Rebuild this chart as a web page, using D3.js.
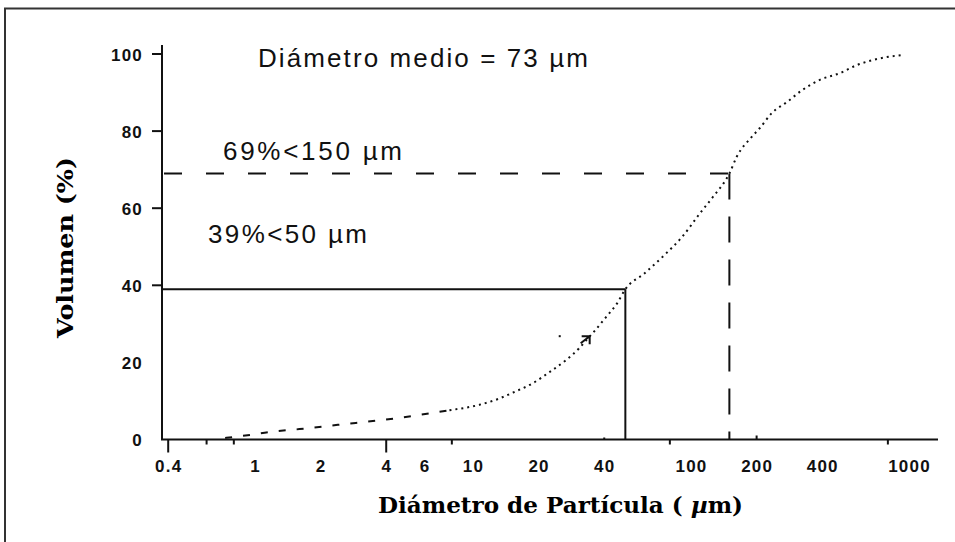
<!DOCTYPE html>
<html>
<head>
<meta charset="utf-8">
<script src="https://cdn.jsdelivr.net/npm/d3@7/dist/d3.min.js"></script>
<style>
  html, body { margin: 0; padding: 0; background: #fff; }
  svg { display: block; }
  .tick-label { font-family: "Liberation Sans", Arial, sans-serif; font-size: 17px; font-weight: bold; letter-spacing: 1.2px; fill: #111; }
  .note { font-family: "Liberation Sans", Arial, sans-serif; font-size: 26px; fill: #111; }
  .axis-title { font-family: "DejaVu Serif", "Liberation Serif", serif; font-weight: bold; font-size: 22px; fill: #000; }
</style>
</head>
<body>
<svg id="chart" width="955" height="542"></svg>
<script>
// Cumulative particle size distribution (volume % below a given diameter)
const diameterUm = [0.73, 0.95, 1.15, 1.6, 2.4, 2.9, 3.9, 5.7, 7.8, 10.7, 13.3, 15.3, 18.8, 22.6, 26.7,
                    30.6, 33.0, 36.3, 40.7, 45.8, 50, 60.9, 76.0, 90.9, 110, 126, 150, 162, 190, 207,
                    235, 275, 325, 390, 485, 575, 680, 790, 950];
const volumePct  = [0.4, 1.2, 1.9, 2.7, 3.8, 4.3, 5.1, 6.4, 7.6, 9.0, 10.7, 12.2, 14.6, 17.6, 20.6,
                    23.6, 25.7, 28.3, 31.7, 35.3, 39, 43, 48, 52.5, 58.7, 62.9, 69, 73.3, 78.5, 80.8,
                    84.7, 87.5, 90.7, 93.3, 95.1, 97.1, 98.4, 99.2, 99.8];

// Split between the dashed (fine fraction) and dotted part of the curve
const dashedUpTo = 7.8;

// Reference readings marked with guide lines
const guideSolid  = { d: 50,  v: 39 };
const guideDashed = { d: 150, v: 69 };

// Axis ticks
const xTickLabels = [0.4, 1, 2, 4, 6, 10, 20, 40, 100, 200, 400, 1000];
const xTicksLong  = [0.4, 4];
const xTicksShort = [0.6, 0.8, 8, 80, 800];
const xTicksUp    = [40, 200];
const yTickLabels = [0, 20, 40, 60, 80, 100];
const yTicksMarked = [40, 60, 80, 100];

// Arrow and stray mark next to the curve
const arrowAt = { d: 34.3, v: 26.8 };
const strayDot = { d: 25, v: 26.8 };

const texts = {
  title: "Diámetro medio = 73 µm",
  note150: "69%<150 µm",
  note50: "39%<50 µm",
  yTitle: "Volumen (%)",
  xTitle: "Diámetro de Partícula ( ",
  xTitleMu: "µ",
  xTitleEnd: "m)"
};

const svg = d3.select("#chart");

// Plot frame (layout)
const plot = { left: 162, right: 938, top: 45, bottom: 439.5 };

const x = d3.scaleLog().domain([0.4, 1000]).range([168.2, 909]);
const y = d3.scaleLinear().domain([0, 100]).range([plot.bottom, 54]);

// Outer border (top and left edges visible)
svg.append("rect")
  .attr("x", 5).attr("y", 8.5)
  .attr("width", 2000).attr("height", 2000)
  .attr("fill", "none").attr("stroke", "#333").attr("stroke-width", 2);

// Axis lines
svg.append("line")
  .attr("x1", plot.left).attr("x2", plot.left)
  .attr("y1", plot.top).attr("y2", plot.bottom)
  .attr("stroke", "#111").attr("stroke-width", 2);
svg.append("line")
  .attr("x1", plot.left - 1).attr("x2", plot.right)
  .attr("y1", plot.bottom).attr("y2", plot.bottom)
  .attr("stroke", "#111").attr("stroke-width", 2);

// Y tick marks and labels
svg.selectAll(".ytick").data(yTicksMarked).join("line")
  .attr("class", "ytick")
  .attr("x1", plot.left - 10).attr("x2", plot.left)
  .attr("y1", d => y(d)).attr("y2", d => y(d))
  .attr("stroke", "#111").attr("stroke-width", 2);

const yAxis = d3.axisLeft(y).tickValues(yTickLabels).tickSize(0).tickPadding(0).tickFormat(d3.format("d"));
const gy = svg.append("g").attr("transform", `translate(${plot.left - 19},0)`).call(yAxis);
gy.select(".domain").remove();
gy.selectAll("text").attr("class", "tick-label").attr("dy", "0.36em").attr("font-size", null).attr("font-family", null);

// X tick marks
svg.selectAll(".xlong").data(xTicksLong).join("line")
  .attr("x1", d => x(d)).attr("x2", d => x(d))
  .attr("y1", plot.bottom).attr("y2", plot.bottom + 13)
  .attr("stroke", "#111").attr("stroke-width", 2);
svg.selectAll(".xshort").data(xTicksShort).join("line")
  .attr("x1", d => x(d)).attr("x2", d => x(d))
  .attr("y1", plot.bottom).attr("y2", plot.bottom + 5)
  .attr("stroke", "#111").attr("stroke-width", 2);
svg.selectAll(".xup").data(xTicksUp).join("line")
  .attr("x1", d => x(d)).attr("x2", d => x(d))
  .attr("y1", plot.bottom).attr("y2", (d, i) => plot.bottom - (i === 0 ? 2 : 4))
  .attr("stroke", "#111").attr("stroke-width", 2);

const xAxis = d3.axisBottom(x).tickValues(xTickLabels).tickSize(0).tickPadding(0).tickFormat(d => String(d));
const gx = svg.append("g").attr("transform", `translate(0,${plot.bottom + 20})`).call(xAxis);
gx.select(".domain").remove();
gx.selectAll("text").attr("class", "tick-label").attr("dy", "0.71em").attr("font-size", null).attr("font-family", null);

// Guide lines
svg.append("line")
  .attr("x1", plot.left).attr("x2", x(guideSolid.d))
  .attr("y1", y(guideSolid.v)).attr("y2", y(guideSolid.v))
  .attr("stroke", "#111").attr("stroke-width", 2);
svg.append("line")
  .attr("x1", x(guideSolid.d)).attr("x2", x(guideSolid.d))
  .attr("y1", y(guideSolid.v)).attr("y2", plot.bottom)
  .attr("stroke", "#111").attr("stroke-width", 2);
svg.append("line")
  .attr("x1", plot.left).attr("x2", x(guideDashed.d))
  .attr("y1", y(guideDashed.v)).attr("y2", y(guideDashed.v))
  .attr("stroke", "#111").attr("stroke-width", 2)
  .attr("stroke-dasharray", "18,24").attr("stroke-dashoffset", -2);
svg.append("line")
  .attr("x1", x(guideDashed.d)).attr("x2", x(guideDashed.d))
  .attr("y1", y(guideDashed.v)).attr("y2", plot.bottom)
  .attr("stroke", "#111").attr("stroke-width", 2)
  .attr("stroke-dasharray", "26,17");

// Distribution curve
const pts = diameterUm.map((d, i) => ({ d, v: volumePct[i] }));
const line = d3.line().x(p => x(p.d)).y(p => y(p.v)).curve(d3.curveMonotoneX);

svg.append("path")
  .datum(pts.filter(p => p.d <= dashedUpTo))
  .attr("d", line)
  .attr("fill", "none").attr("stroke", "#111").attr("stroke-width", 2)
  .attr("stroke-dasharray", "7,11");
svg.append("path")
  .datum(pts.filter(p => p.d >= dashedUpTo))
  .attr("d", line)
  .attr("fill", "none").attr("stroke", "#111").attr("stroke-width", 2)
  .attr("stroke-dasharray", "2,4");

// Arrowhead on the curve and the small mark beside it
const ax = x(arrowAt.d), ay = y(arrowAt.v);
svg.append("path")
  .attr("d", `M${ax - 8},${ay} L${ax},${ay} L${ax},${ay + 8} M${ax},${ay} L${ax - 9},${ay + 7}`)
  .attr("fill", "none").attr("stroke", "#111").attr("stroke-width", 2);
svg.append("rect")
  .attr("x", x(strayDot.d) - 1).attr("y", y(strayDot.v) - 1)
  .attr("width", 2).attr("height", 2).attr("fill", "#111");

// Annotations
svg.append("text").attr("class", "note")
  .attr("x", 258).attr("y", 66.5)
  .attr("textLength", 330).attr("lengthAdjust", "spacing")
  .text(texts.title);
svg.append("text").attr("class", "note")
  .attr("x", 223).attr("y", 160)
  .attr("textLength", 179).attr("lengthAdjust", "spacing")
  .text(texts.note150);
svg.append("text").attr("class", "note")
  .attr("x", 208).attr("y", 243)
  .attr("textLength", 159).attr("lengthAdjust", "spacing")
  .text(texts.note50);

// Axis titles
svg.append("text").attr("class", "axis-title")
  .attr("transform", "translate(73,338) rotate(-90)")
  .attr("textLength", 181).attr("lengthAdjust", "spacingAndGlyphs")
  .text(texts.yTitle);

const xt = svg.append("text").attr("class", "axis-title")
  .attr("x", 378).attr("y", 513)
  .attr("textLength", 365).attr("lengthAdjust", "spacingAndGlyphs");
xt.append("tspan").text(texts.xTitle);
xt.append("tspan").attr("font-style", "italic").text(texts.xTitleMu);
xt.append("tspan").text(texts.xTitleEnd);
</script>
</body>
</html>
